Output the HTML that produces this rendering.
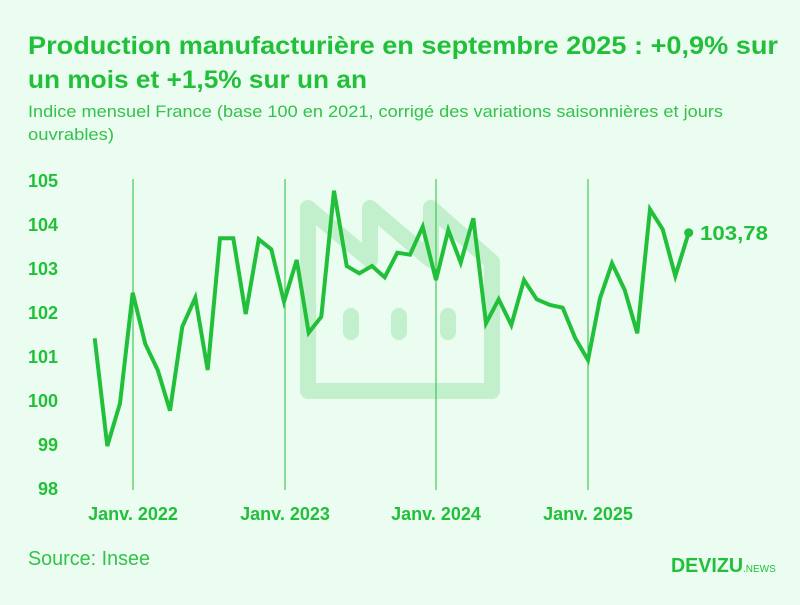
<!DOCTYPE html>
<html><head><meta charset="utf-8"><style>
body{margin:0;width:800px;height:600px;background:#ebfdf0;font-family:"Liberation Sans",sans-serif;overflow:hidden}
</style></head><body>
<svg width="800" height="600" xmlns="http://www.w3.org/2000/svg">
<rect width="800" height="600" fill="#ebfdf0"/>
<text x="28" y="54" font-size="25" font-weight="bold" fill="#22c03a" textLength="750" lengthAdjust="spacingAndGlyphs">Production manufacturière en septembre 2025 : +0,9% sur</text>
<text x="28" y="88" font-size="25" font-weight="bold" fill="#22c03a" textLength="339" lengthAdjust="spacingAndGlyphs">un mois et +1,5% sur un an</text>
<text x="28" y="117" font-size="17" fill="#33c24a" textLength="695" lengthAdjust="spacingAndGlyphs">Indice mensuel France (base 100 en 2021, corrigé des variations saisonnières et jours</text>
<text x="28" y="140" font-size="17" fill="#33c24a" textLength="86" lengthAdjust="spacingAndGlyphs">ouvrables)</text>
<g fill="none" stroke="#c2f0cc" stroke-width="16" stroke-linejoin="round" stroke-linecap="round">
<path d="M308,391 V208 L370,260 V208 L431,260 V208 L492,262 V391 Z"/>
<path d="M351,316 V332 M399,316 V332 M448,316 V332"/>
</g>
<g stroke="#22c03a" stroke-width="1">
<line x1="133" y1="179" x2="133" y2="490"/><line x1="285" y1="179" x2="285" y2="490"/>
<line x1="436" y1="179" x2="436" y2="490"/><line x1="588" y1="179" x2="588" y2="490"/>
</g>
<g font-size="18" font-weight="bold" fill="#22c03a">
<text x="28" y="187">105</text><text x="28" y="231">104</text><text x="28" y="275">103</text><text x="28" y="319">102</text><text x="28" y="363">101</text><text x="28" y="407">100</text><text x="38" y="451">99</text><text x="38" y="495">98</text>
<text x="133" y="520" text-anchor="middle">Janv. 2022</text><text x="285" y="520" text-anchor="middle">Janv. 2023</text><text x="436" y="520" text-anchor="middle">Janv. 2024</text><text x="588" y="520" text-anchor="middle">Janv. 2025</text>
</g>
<polyline fill="none" stroke="#22c03a" stroke-width="4" stroke-linejoin="miter" points="94.7,338.3 107.3,446 120,403.3 132.7,292.7 145.3,344 157.7,370 170,410.7 182.3,326.7 195.3,297.7 207.7,370 220,238.3 233.3,238.3 245.7,314 258.7,239.3 271.3,249.3 284,301.7 296.7,260 308.7,332.7 321.3,316.7 334,190.7 346.7,266 359.3,273.3 372,266 384.7,277.3 397.3,252.7 410,254.7 422.7,226.7 436,280 448.3,230 460.7,262.7 473.3,218.3 486,323.3 498.7,299.3 511.3,325 524,280 536.7,299.3 550,305 562.7,307.7 575.3,338.3 588,360 600,298.3 612,263.3 624.7,290 637.3,333.3 650,209.3 662.7,229.3 675.3,276 688.7,232.7"/>
<circle cx="688.7" cy="232.7" r="4.5" fill="#22c03a"/>
<text x="700" y="240" font-size="20" font-weight="bold" fill="#22c03a" textLength="68" lengthAdjust="spacingAndGlyphs">103,78</text>
<text x="28" y="565" font-size="20" fill="#33c24a" textLength="122" lengthAdjust="spacingAndGlyphs">Source: Insee</text>
<text x="671" y="572" font-size="20" font-weight="bold" fill="#22c03a" textLength="72" lengthAdjust="spacingAndGlyphs">DEVIZU</text>
<text x="743" y="572" font-size="10" fill="#22c03a">.NEWS</text>
</svg>
</body></html>
